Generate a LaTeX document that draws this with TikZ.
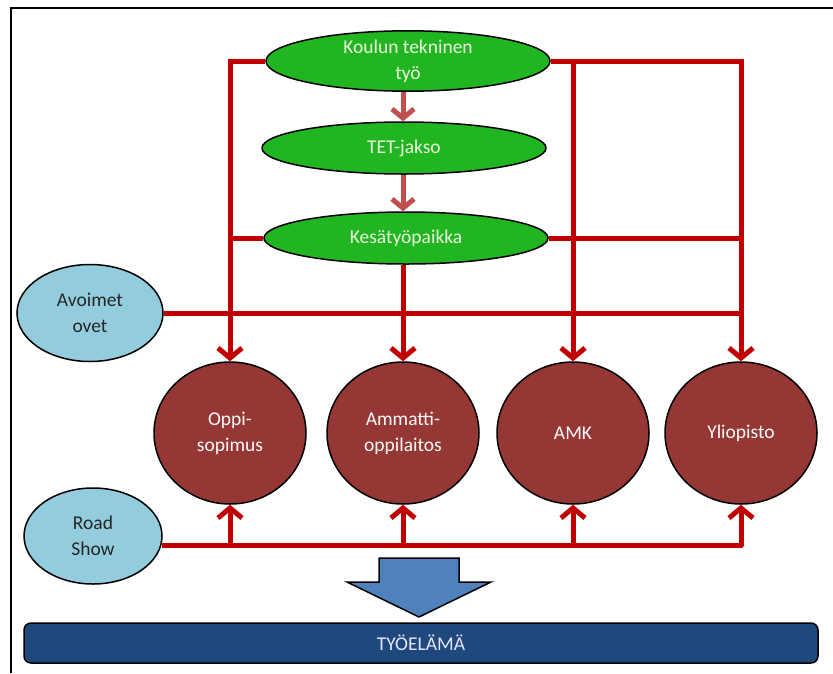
\documentclass[tikz,border=0pt]{standalone}
\usepackage{fontspec}
\setmainfont{Carlito}
\usetikzlibrary{shapes.geometric,arrows.meta}
\definecolor{linered}{HTML}{C00000}
\definecolor{softred}{HTML}{C0504D}
\definecolor{ovalgreen}{HTML}{22B522}
\definecolor{ovaltext}{HTML}{EAF6DC}
\definecolor{skyblue}{HTML}{93CDDD}
\definecolor{circred}{HTML}{953735}
\definecolor{arrowblue}{HTML}{4F81BD}
\definecolor{barblue}{HTML}{1F497D}
\tikzset{
  greenoval/.style={ellipse,draw=black,line width=1.5pt,fill=ovalgreen,text=ovaltext,
    minimum width=284pt,minimum height=52pt,inner sep=0pt,align=center},
  blueoval/.style={ellipse,draw=black,line width=1.5pt,fill=skyblue,text=black!85,
    inner sep=0pt,align=center},
  school/.style={ellipse,draw=black,line width=1.5pt,fill=circred,text=white!92!pink,
    minimum width=152pt,minimum height=142pt,inner sep=0pt,align=center},
  redline/.style={linered,line width=5pt},
  redarrow/.style={redline,-{Straight Barb[length=10pt,width=24pt]}},
}
\begin{document}
\begin{tikzpicture}[x=1pt,y=-1pt,font=\fontsize{19.5}{26}\selectfont]
\useasboundingbox (0,0) rectangle (833,673);
% frame
\draw[line width=2pt] (11,673) -- (11,8) -- (833,8);

% upper chain
\node[greenoval] (kou) at (408,61) {Koulun tekninen\\työ};
\node[greenoval] (tet) at (404,148) {TET-jakso};
\node[greenoval] (kes) at (406,238) {Kesätyöpaikka};
\draw[softred,line width=5pt,-{Straight Barb[length=9pt,width=22pt]}] (kou.south -| 403,0) -- (tet.north -| 403,0);
\draw[softred,line width=5pt,-{Straight Barb[length=9pt,width=22pt]}] (tet.south -| 403,0) -- (kes.north -| 403,0);

% side ovals
\node[blueoval,minimum width=146pt,minimum height=97pt] (avo) at (90,313) {Avoimet\\ovet};
\node[blueoval,minimum width=138pt,minimum height=96pt] (road) at (93,536) {Road\\Show};
\coordinate (rs) at ([yshift=-9pt,xshift=-1pt]road.east);

% schools
\node[school] (opp) at (230,433) {Oppi-\\sopimus};
\node[school] (amm) at (403,433) {Ammatti-\\oppilaitos};
\node[school] (amk) at (573,433) {AMK};
\node[school] (yli) at (741,433) {Yliopisto};

% red connectors
\draw[redarrow] (kou.west) -| (opp.north);
\draw[redarrow] (kou.east) -| (yli.north);
\draw[redarrow] (kou.east -| amk.north) -- (amk.north);
\draw[redline] (kes.west) -- (kes.west -| opp.north);
\draw[redline] (kes.east) -- (kes.east -| yli.north);
\draw[redline] (avo.east) -- (avo.east -| yli.north);
\draw[redarrow] (kes.south -| amm.north) -- (amm.north);
\draw[redarrow,line join=round] (rs) -| (yli.south);
\foreach \s in {opp,amm,amk}
  \draw[redarrow] (rs -| \s.south) -- (\s.south);

% big arrow and bar
\draw[fill=arrowblue,line width=1.5pt,line join=miter]
  (379,558) -- (459,558) -- (459,582) -- (491,582) -- (419,617)
  -- (347,582) -- (379,582) -- cycle;
\node[draw=black,line width=1.5pt,fill=barblue,rounded corners=7pt,text=white!90!blue,
  minimum width=794pt,minimum height=40pt,inner sep=0pt] (tyo) at (421,643) {TYÖELÄMÄ};
\end{tikzpicture}
\end{document}
